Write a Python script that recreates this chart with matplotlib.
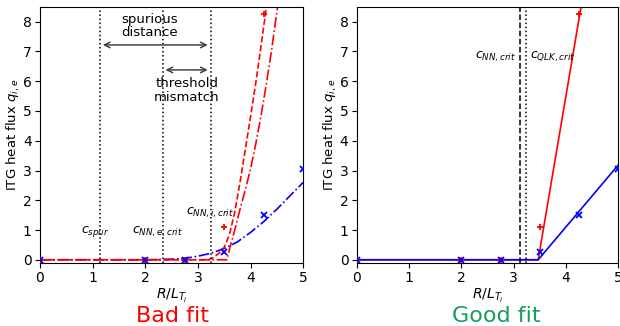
from matplotlib import pyplot as plt

# gyrokinetic samples (shared by both panels)
x_data = [0.0, 2.0, 2.75, 3.5, 4.25, 5.0]
qi_data = [0.0, 0.0, 0.0, 1.1, 8.25]
qe_data = [0.0, 0.0, 0.0, 0.25, 1.52, 3.05]

# badly fitted network: ion flux (two variants) and electron flux
bad_qi_x = [0.0, 3.2, 3.3, 3.4, 3.5, 3.6, 3.7, 3.8, 3.9, 4.0, 4.1, 4.2, 4.31]
bad_qi_y = [0.0, 0.0, 0.08, 0.22, 0.42, 0.85, 1.6, 2.6, 3.7, 4.8, 5.95, 7.2, 8.6]
bad_qi2_x = [0.0, 3.55, 3.6, 3.7, 3.8, 3.9, 4.0, 4.1, 4.2, 4.3, 4.4, 4.52]
bad_qi2_y = [0.0, 0.0, 0.35, 1.0, 1.7, 2.35, 3.05, 3.9, 4.85, 5.9, 7.05, 8.6]
bad_qe_x = [0.0, 2.0, 2.5, 2.75, 3.0, 3.25, 3.5, 3.75, 4.0, 4.25, 4.5, 4.75, 5.0]
bad_qe_y = [0.0, 0.0, 0.02, 0.05, 0.12, 0.22, 0.38, 0.6, 0.92, 1.28, 1.7, 2.15, 2.6]

# well fitted network: piecewise linear above threshold
good_qi_x = [0.0, 3.47, 4.3]
good_qi_y = [0.0, 0.0, 8.6]
good_qe_x = [0.0, 3.47, 5.0]
good_qe_y = [0.0, 0.0, 3.18]

c_spur = 1.14
c_nn_e = 2.33
c_nn_i = 3.24
c_nn = 3.12
c_qlk = 3.24

fig = plt.figure(figsize=(6.2, 3.26), dpi=100)
ax1 = fig.add_axes([0.0645, 0.194, 0.4245, 0.785])
ax2 = fig.add_axes([0.5755, 0.194, 0.4215, 0.785])

for ax in (ax1, ax2):
    ax.plot(x_data[:len(qi_data)], qi_data, '+', color='red', ms=5, mew=1.3, zorder=5)
    ax.plot(x_data, qe_data, 'x', color='blue', ms=5, mew=1.3, zorder=5)
    ax.set_xlim(0, 5)
    ax.set_ylim(-0.1, 8.5)
    ax.set_xticks(range(6))
    ax.set_yticks(range(9))
    ax.tick_params(labelsize=10, length=3.5, pad=2.5)
    ax.set_xlabel(r'$R/L_{T_i}$', fontsize=10, labelpad=1)
    ax.set_ylabel(r'ITG heat flux $q_{i,e}$', fontsize=9.5, labelpad=0.5)

# bad fit
ax1.plot(bad_qe_x, bad_qe_y, '-.', color='blue', lw=1.2)
ax1.plot(bad_qi2_x, bad_qi2_y, '-.', color='red', lw=1.2)
ax1.plot(bad_qi_x, bad_qi_y, '--', color='red', lw=1.2)
for c in (c_spur, c_nn_e, c_nn_i):
    ax1.axvline(c, color='black', ls=':', lw=1.1)
ax1.annotate('', xy=(c_spur, 7.22), xytext=(c_nn_i, 7.22),
             arrowprops=dict(arrowstyle='<->', color='#444444', lw=1.1))
ax1.annotate('', xy=(c_nn_e, 6.38), xytext=(c_nn_i, 6.38),
             arrowprops=dict(arrowstyle='<->', color='#444444', lw=1.1))
ax1.text(2.09, 7.86, 'spurious\ndistance', ha='center', va='center',
         fontsize=9.5, linespacing=1.05)
ax1.text(2.79, 5.69, 'threshold\nmismatch', ha='center', va='center',
         fontsize=9.5, linespacing=1.05)
ax1.text(1.05, 0.94, r'$c_{spur}$', ha='center', va='center', fontsize=9)
ax1.text(2.23, 0.94, r'$c_{NN,e,crit}$', ha='center', va='center', fontsize=9)
ax1.text(3.22, 1.58, r'$c_{NN,i,crit}$', ha='center', va='center', fontsize=9)

# good fit
ax2.plot(good_qi_x, good_qi_y, '-', color='red', lw=1.2)
ax2.plot(good_qe_x, good_qe_y, '-', color='blue', lw=1.2)
ax2.axvline(c_nn, color='black', ls='--', lw=1.1)
ax2.axvline(c_qlk, color='black', ls=':', lw=1.1)
ax2.text(3.04, 6.83, r'$c_{NN,crit}$', ha='right', va='center', fontsize=9)
ax2.text(3.32, 6.83, r'$c_{QLK,crit}$', ha='left', va='center', fontsize=9)

fig.text(0.278, 0.012, 'Bad fit', color='red', fontsize=16, ha='center', va='baseline')
fig.text(0.801, 0.012, 'Good fit', color='#12a05a', fontsize=16, ha='center', va='baseline')

fig.savefig('out.png', dpi=100)
